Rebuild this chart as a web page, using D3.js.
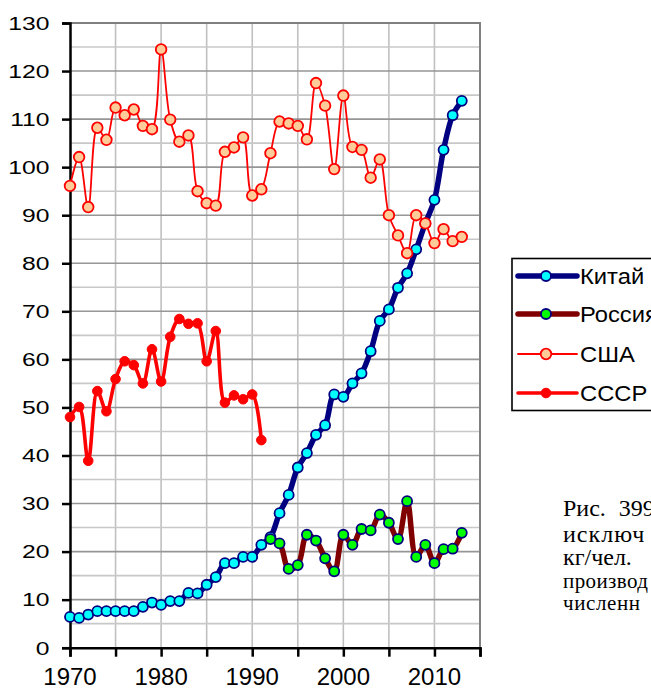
<!DOCTYPE html>
<html>
  <head>
    <meta charset="UTF-8">
    <style>
      body { margin: 0; background: #fff; }
      svg { display: block; font-family: Arial, "Liberation Sans", sans-serif; }
      .caption { font-family: "Times New Roman", "Liberation Serif", serif; }
    </style>
    <script src="https://d3js.org/d3.v7.min.js"></script>
  </head>
  <body>
    <script>
      // values, kg per person
      var chinaYears = d3.range(1970, 2014);
      var china = [6.4, 6.2, 6.9, 7.6, 7.6, 7.6, 7.6, 7.6, 8.5, 9.4,
                   8.9, 9.7, 9.7, 11.4, 11.3, 13.1, 14.7, 17.6, 17.6, 18.9,
                   18.9, 21.4, 23.0, 28.0, 31.8, 37.5, 40.5, 44.3, 46.3, 52.7,
                   52.2, 55.0, 57.1, 61.7, 68.0, 70.4, 74.9, 77.9, 82.9, 88.3,
                   93.2, 103.6, 110.8, 113.8];

      var russiaYears = d3.range(1992, 2014);
      var russia = [22.6, 21.7, 16.4, 17.2, 23.5, 22.3, 18.6, 15.9, 23.5, 21.4,
                    24.7, 24.4, 27.7, 26.0, 22.6, 30.5, 18.9, 21.4, 17.6, 20.5,
                    20.6, 23.9];

      var usaYears = d3.range(1970, 2014);
      var usa = [96.1, 102.1, 91.7, 108.2, 105.7, 112.4, 110.8, 112.0, 108.6, 107.9,
                 124.5, 109.9, 105.3, 106.6, 95.0, 92.5, 92.0, 103.2, 104.1, 106.2,
                 94.1, 95.4, 102.9, 109.5, 109.1, 108.6, 105.8, 117.5, 112.8, 99.6,
                 114.9, 104.2, 103.6, 97.8, 101.6, 90.0, 85.8, 82.1, 90.0, 88.3,
                 84.2, 87.1, 84.6, 85.5];

      var ussrYears = d3.range(1970, 1992);
      var ussr = [48.0, 50.1, 38.9, 53.4, 49.2, 55.9, 59.6, 58.8, 55.0, 62.1,
                  55.4, 64.7, 68.4, 67.4, 67.5, 59.6, 65.9, 51.0, 52.5, 51.7,
                  52.7, 43.2];

      var yTicks = d3.range(0, 131, 10);
      var xLabels = [1970, 1980, 1990, 2000, 2010];
      var captionLines = ["Рис. 399", "исключ", "кг/чел.", "производ", "численн"];

      var series = [
        { name: "Китай",  years: chinaYears,  values: china,  line: "#000080", lw: 5.5, fill: "#00ffff", stroke: "#000080", r: 5, sw: 1.8 },
        { name: "Россия", years: russiaYears, values: russia, line: "#800000", lw: 5.5, fill: "#00ff00", stroke: "#000080", r: 5, sw: 1.8 },
        { name: "США",    years: usaYears,    values: usa,    line: "#ff0000", lw: 1.8, fill: "#ffcc99", stroke: "#ff0000", r: 5.3, sw: 1.8 },
        { name: "СССР",   years: ussrYears,   values: ussr,   line: "#ff0000", lw: 3.6, fill: "#ff0000", stroke: "#ff0000", r: 4.8, sw: 1 }
      ];

      var width = 651, height = 691;

      var x = d3.scaleLinear().domain([1970, 2015]).range([70, 480]);
      var y = d3.scaleLinear().domain([0, 130]).range([647.7, 23]);

      var svg = d3.select("body").append("svg")
        .attr("width", width)
        .attr("height", height);

      // grid
      svg.append("g").selectAll("line")
        .data(d3.range(1975, 2016, 5))
        .enter().append("line")
        .attr("x1", function(d) { return x(d); })
        .attr("x2", function(d) { return x(d); })
        .attr("y1", y(0)).attr("y2", y(130))
        .attr("stroke", "#c0c0c0").attr("stroke-width", 1.6);

      svg.append("g").selectAll("line")
        .data(d3.range(5, 131, 5))
        .enter().append("line")
        .attr("x1", x(1970)).attr("x2", x(2015))
        .attr("y1", function(d) { return y(d); })
        .attr("y2", function(d) { return y(d); })
        .attr("stroke", function(d) { return d % 10 === 0 ? "#969696" : "#c8c8c8"; })
        .attr("stroke-width", 1.6);

      // plot border (top, right)
      svg.append("path")
        .attr("d", "M" + x(1970) + "," + y(130) + "H" + x(2015) + "V" + y(0))
        .attr("fill", "none").attr("stroke", "#808080").attr("stroke-width", 2);

      // axes
      var yAxis = svg.append("g")
        .attr("transform", "translate(" + x(1970) + ",0)")
        .call(d3.axisLeft(y).tickValues(yTicks).tickSize(8).tickPadding(0).tickFormat(""));
      yAxis.select(".domain").attr("stroke", "#000").attr("stroke-width", 2.5);
      yAxis.selectAll(".tick line").attr("stroke", "#000").attr("stroke-width", 2.5);

      svg.append("g").selectAll("text")
        .data(yTicks)
        .enter().append("text")
        .attr("transform", function(d) { return "translate(49.5," + (y(d) + 6.8) + ") scale(1.3,1)"; })
        .attr("text-anchor", "end")
        .attr("font-size", 19)
        .attr("fill", "#000")
        .text(function(d) { return d; });

      var xAxis = svg.append("g")
        .attr("transform", "translate(0," + y(0) + ")")
        .call(d3.axisBottom(x).tickValues(d3.range(1970, 2016, 5)).tickSize(9).tickFormat(""));
      xAxis.select(".domain").attr("stroke", "#000").attr("stroke-width", 2.5);
      xAxis.selectAll(".tick line").attr("stroke", "#000").attr("stroke-width", 2.5);

      svg.append("g").selectAll("text")
        .data(xLabels)
        .enter().append("text")
        .attr("x", function(d) { return x(d); })
        .attr("y", 685)
        .attr("text-anchor", "middle")
        .attr("font-size", 24)
        .attr("fill", "#000")
        .text(function(d) { return d; });

      // series
      var line = d3.line()
        .x(function(d) { return x(d[0]); })
        .y(function(d) { return y(d[1]); })
        .curve(d3.curveCatmullRom.alpha(0.5));

      series.forEach(function(s) {
        var pts = s.years.map(function(yr, i) { return [yr, s.values[i]]; });
        var g = svg.append("g");
        g.append("path")
          .attr("d", line(pts))
          .attr("fill", "none")
          .attr("stroke", s.line)
          .attr("stroke-width", s.lw)
          .attr("stroke-linejoin", "round");
        g.selectAll("circle")
          .data(pts)
          .enter().append("circle")
          .attr("cx", function(d) { return x(d[0]); })
          .attr("cy", function(d) { return y(d[1]); })
          .attr("r", s.r)
          .attr("fill", s.fill)
          .attr("stroke", s.stroke)
          .attr("stroke-width", s.sw);
      });

      // legend
      var legend = svg.append("g");
      legend.append("rect")
        .attr("x", 512).attr("y", 258.5)
        .attr("width", 200).attr("height", 152)
        .attr("fill", "#fff").attr("stroke", "#000").attr("stroke-width", 1.6);

      var rowY = [276, 314, 354, 393];
      series.forEach(function(s, i) {
        var row = legend.append("g").attr("transform", "translate(0," + rowY[i] + ")");
        row.append("line")
          .attr("x1", 518).attr("x2", 577)
          .attr("stroke", s.line).attr("stroke-width", s.lw)
          .attr("stroke-linecap", "round");
        row.append("circle")
          .attr("cx", 546).attr("r", s.r)
          .attr("fill", s.fill).attr("stroke", s.stroke).attr("stroke-width", s.sw);
        row.append("text")
          .attr("transform", "translate(580,8) scale(1.08,1)")
          .attr("font-size", 22)
          .attr("fill", "#000")
          .text(s.name);
      });

      // caption, cut by the right edge
      var capY = [516, 541.5, 565, 588, 610];
      var capSize = [24, 24, 24, 21, 21];
      var capSpacing = [0, 1, 0, 0.4, 0.6];
      svg.append("g").selectAll("text")
        .data(captionLines)
        .enter().append("text")
        .attr("class", "caption")
        .attr("x", 563)
        .attr("y", function(d, i) { return capY[i]; })
        .attr("font-size", function(d, i) { return capSize[i]; })
        .attr("letter-spacing", function(d, i) { return capSpacing[i]; })
        .attr("word-spacing", function(d, i) { return i === 0 ? 7 : 0; })
        .attr("fill", "#000")
        .text(function(d) { return d; });
    </script>
  </body>
</html>
